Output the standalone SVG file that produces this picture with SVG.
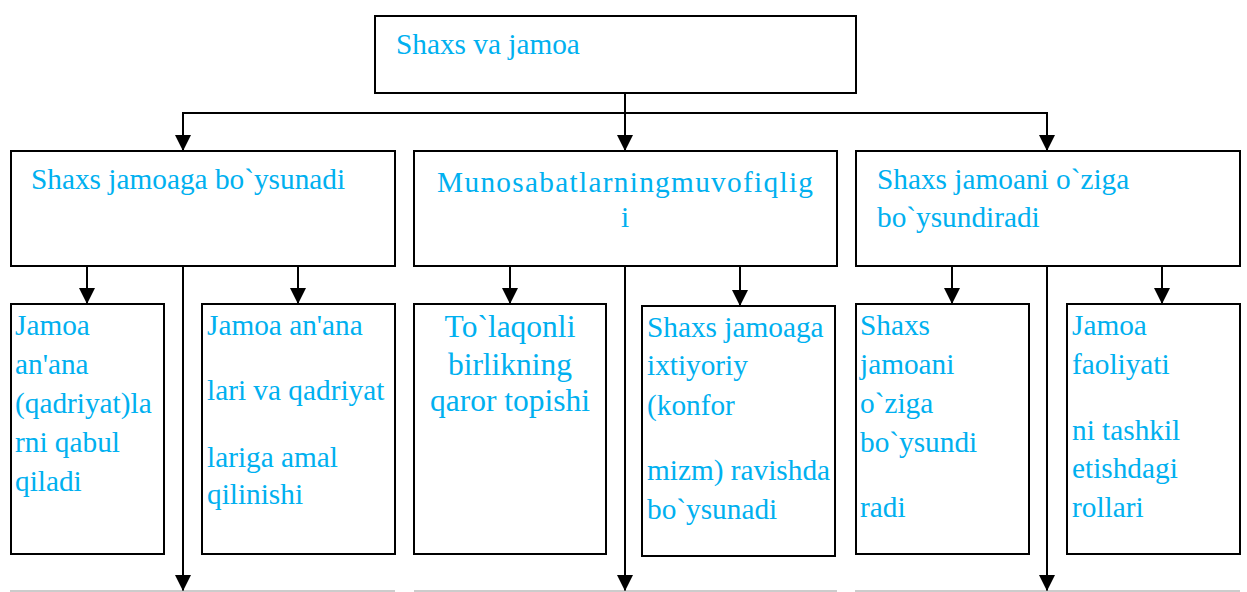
<svg xmlns="http://www.w3.org/2000/svg" width="1247" height="592" viewBox="0 0 1247 592">
<style>
.box{fill:#fff;stroke:#000;stroke-width:2}
.t{font-family:"Liberation Serif","Times New Roman",serif;font-size:29.3px;fill:#00B0F0}
.tc{text-anchor:middle}
.c{stroke:#000;stroke-width:2;fill:none}
.arr{marker-end:url(#ah)}
.base{stroke:#999;stroke-width:1.2}
</style>
<defs>
<marker id="ah" viewBox="0 0 16 16" refX="16" refY="8" markerWidth="16" markerHeight="16" markerUnits="userSpaceOnUse" orient="auto">
<path d="M0,0 L16,8 L0,16 z" fill="#000"/>
</marker>
</defs>
<rect width="1247" height="592" fill="#fff"/>
<g id="connectors">
<line class="c" x1="625" y1="93" x2="625" y2="113"/>
<line class="c" x1="183" y1="113" x2="1048" y2="113"/>
<line class="c arr" x1="183" y1="112" x2="183" y2="151"/>
<line class="c arr" x1="625" y1="112" x2="625" y2="151"/>
<line class="c arr" x1="1047" y1="112" x2="1047" y2="151"/>
<line class="c arr" x1="87" y1="266" x2="87" y2="304"/>
<line class="c arr" x1="298" y1="266" x2="298" y2="304"/>
<line class="c arr" x1="510" y1="266" x2="510" y2="304"/>
<line class="c arr" x1="740" y1="266" x2="740" y2="306"/>
<line class="c arr" x1="952" y1="266" x2="952" y2="304"/>
<line class="c arr" x1="1162" y1="266" x2="1162" y2="304"/>
<line class="c arr" x1="183" y1="266" x2="183" y2="591"/>
<line class="c arr" x1="625" y1="266" x2="625" y2="591"/>
<line class="c arr" x1="1047" y1="266" x2="1047" y2="591"/>
<line class="base" x1="10" y1="591" x2="395" y2="591"/>
<line class="base" x1="414" y1="591" x2="837" y2="591"/>
<line class="base" x1="855" y1="591" x2="1240" y2="591"/>
</g>
<g id="n-root">
<rect class="box" x="375" y="16" width="481" height="77"/>
<text class="t" x="396" y="54">Shaxs va jamoa</text>
</g>
<g id="n-left">
<rect class="box" x="11" y="151" width="384" height="115"/>
<text class="t" x="31" y="189">Shaxs jamoaga bo`ysunadi</text>
</g>
<g id="n-mid">
<rect class="box" x="414" y="151" width="423" height="115"/>
<text class="t tc" x="625.7" y="192" style="letter-spacing:1.3px">Munosabatlarningmuvofiqlig</text>
<text class="t tc" x="625" y="227">i</text>
</g>
<g id="n-right">
<rect class="box" x="856" y="151" width="384" height="115"/>
<text class="t" x="877" y="189">Shaxs jamoani o`ziga</text>
<text class="t" x="877" y="227">bo`ysundiradi</text>
</g>
<g id="n-b1">
<rect class="box" x="11" y="304" width="153" height="250"/>
<text class="t" x="15" y="335">Jamoa</text>
<text class="t" x="15" y="374">an'ana</text>
<text class="t" x="15" y="413">(qadriyat)la</text>
<text class="t" x="15" y="452">rni qabul</text>
<text class="t" x="15" y="491">qiladi</text>
</g>
<g id="n-b2">
<rect class="box" x="202" y="304" width="193" height="250"/>
<text class="t" x="207" y="335">Jamoa an'ana</text>
<text class="t" x="207" y="400">lari va qadriyat</text>
<text class="t" x="207" y="467">lariga amal</text>
<text class="t" x="207" y="504">qilinishi</text>
</g>
<g id="n-b3">
<rect class="box" x="414" y="304" width="192" height="250"/>
<text class="t tc" x="510" y="337" style="font-size:31.5px">To`laqonli</text>
<text class="t tc" x="510" y="375" style="font-size:31.5px">birlikning</text>
<text class="t tc" x="510" y="411" style="font-size:31.5px">qaror topishi</text>
</g>
<g id="n-b4">
<rect class="box" x="642" y="306" width="193" height="250"/>
<text class="t" x="647" y="337">Shaxs jamoaga</text>
<text class="t" x="647" y="375">ixtiyoriy</text>
<text class="t" x="647" y="415">(konfor</text>
<text class="t" x="647" y="480">mizm) ravishda</text>
<text class="t" x="647" y="519">bo`ysunadi</text>
</g>
<g id="n-b5">
<rect class="box" x="856" y="304" width="173" height="250"/>
<text class="t" x="860" y="335">Shaxs</text>
<text class="t" x="860" y="374">jamoani</text>
<text class="t" x="860" y="413">o`ziga</text>
<text class="t" x="860" y="452">bo`ysundi</text>
<text class="t" x="860" y="517">radi</text>
</g>
<g id="n-b6">
<rect class="box" x="1067" y="304" width="173" height="250"/>
<text class="t" x="1072" y="335">Jamoa</text>
<text class="t" x="1072" y="374">faoliyati</text>
<text class="t" x="1072" y="440">ni tashkil</text>
<text class="t" x="1072" y="478">etishdagi</text>
<text class="t" x="1072" y="517">rollari</text>
</g>
</svg>
